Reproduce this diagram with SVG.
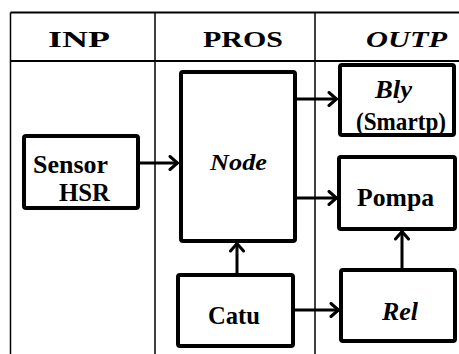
<svg xmlns="http://www.w3.org/2000/svg" width="459" height="354" viewBox="0 0 459 354">
<style>
.grid{stroke:#000;stroke-width:1.5;fill:none}
.box{fill:#fff;stroke:#000;stroke-width:4;stroke-linejoin:round}
.con{stroke:#000;stroke-width:3;fill:none}
text{font-family:'Liberation Serif','Times New Roman',serif;font-weight:bold;fill:#000}
.h{font-size:23px}
.t{font-size:25px}
.i{font-style:italic}
</style>
<defs>
<marker id="arr" viewBox="0 0 14 16" refX="11.5" refY="8" markerWidth="14" markerHeight="16" markerUnits="userSpaceOnUse" orient="auto">
<path d="M3.5,1.5 L11,8 L3.5,14.5" fill="none" stroke="#000" stroke-width="3" stroke-linejoin="miter" stroke-linecap="round"/>
</marker>
</defs>
<g id="table">
<line class="grid" x1="10.5" y1="12.5" x2="459" y2="12.5" style="stroke-width:2"/>
<line class="grid" x1="10.5" y1="12.5" x2="10.5" y2="354"/>
<line class="grid" x1="155" y1="12.5" x2="155" y2="354"/>
<line class="grid" x1="315" y1="12.5" x2="315" y2="354"/>
<line class="grid" x1="10.5" y1="61" x2="459" y2="61" style="stroke-width:2"/>
<text class="h" x="48" y="47" textLength="62" lengthAdjust="spacingAndGlyphs">INP</text>
<text class="h" x="203" y="47" textLength="80" lengthAdjust="spacingAndGlyphs">PROS</text>
<text class="h i" x="366" y="47" textLength="81" lengthAdjust="spacingAndGlyphs">OUTP</text>
</g>
<g id="connectors">
<line class="con" x1="138" y1="163" x2="178" y2="163" marker-end="url(#arr)"/>
<line class="con" x1="295" y1="99" x2="337" y2="99" marker-end="url(#arr)"/>
<line class="con" x1="295" y1="198" x2="337" y2="198" marker-end="url(#arr)"/>
<line class="con" x1="237" y1="274" x2="237" y2="243" marker-end="url(#arr)"/>
<line class="con" x1="293" y1="310" x2="339" y2="310" marker-end="url(#arr)"/>
<line class="con" x1="402" y1="269" x2="402" y2="231" marker-end="url(#arr)"/>
</g>
<g id="node-sensor">
<rect class="box" x="24" y="136" width="114" height="72" rx="2"/>
<text class="t" x="33" y="173" textLength="75" lengthAdjust="spacingAndGlyphs">Sensor</text>
<text class="t" x="59" y="201" textLength="51" lengthAdjust="spacingAndGlyphs">HSR</text>
</g>
<g id="node-node">
<rect class="box" x="181" y="72" width="114" height="169" rx="2"/>
<text class="h i" x="210" y="170" textLength="57" lengthAdjust="spacingAndGlyphs">Node</text>
</g>
<g id="node-catu">
<rect class="box" x="178" y="275" width="115" height="71" rx="2"/>
<text class="t" x="208" y="324" textLength="52" lengthAdjust="spacingAndGlyphs">Catu</text>
</g>
<g id="node-bly">
<rect class="box" x="340" y="65" width="114" height="70" rx="2"/>
<text class="t i" x="375" y="98" textLength="37" lengthAdjust="spacingAndGlyphs">Bly</text>
<text class="t" x="356" y="130" textLength="90" lengthAdjust="spacingAndGlyphs">(Smartp)</text>
</g>
<g id="node-pompa">
<rect class="box" x="339" y="157" width="116" height="72" rx="2"/>
<text class="t" x="357" y="206" textLength="77" lengthAdjust="spacingAndGlyphs">Pompa</text>
</g>
<g id="node-rel">
<rect class="box" x="341" y="270" width="114" height="71" rx="2"/>
<text class="t i" x="382" y="320" textLength="36" lengthAdjust="spacingAndGlyphs">Rel</text>
</g>
</svg>
